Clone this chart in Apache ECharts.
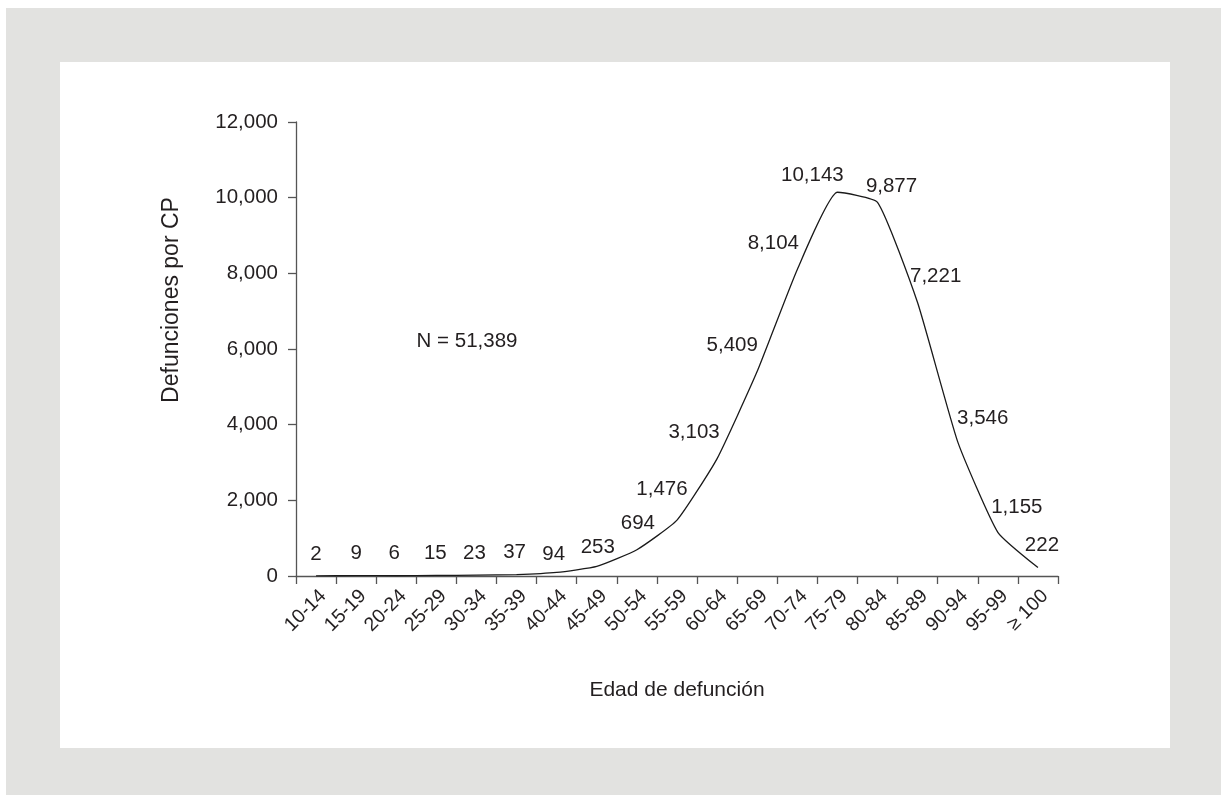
<!DOCTYPE html>
<html>
<head>
<meta charset="utf-8">
<script src="https://cdn.jsdelivr.net/npm/echarts@6/dist/echarts.min.js"></script>
<style>
  html, body { margin: 0; padding: 0; background: #ffffff; }
  #chart { width: 1221px; height: 795px; }
</style>
</head>
<body>
<div id="chart"></div>
<script>
// ---- Data ----
var categories = ['10-14','15-19','20-24','25-29','30-34','35-39','40-44','45-49','50-54','55-59','60-64','65-69','70-74','75-79','80-84','85-89','90-94','95-99','\u2265 100'];
var deaths = [2, 9, 6, 15, 23, 37, 94, 253, 694, 1476, 3103, 5409, 8104, 10143, 9877, 7221, 3546, 1155, 222];
var yTicks = { min: 0, max: 12000, interval: 2000 };
var totalLabel = 'N = 51,389';
var xAxisTitle = 'Edad de defunci\u00f3n';
var yAxisTitle = 'Defunciones por CP';

// ---- Styling (label placement offsets, not data) ----
var labelOffsets = [
  [0,-22],[0,-22],[-2,-22],[-1,-22],[-2,-22],[-2,-22],[-3,-18],[1,-19],[1,-26],
  [-15,-31],[-23,-26],[-25,-26],[-24,-26],[-25,-17],[14,-16],[18,-26],[25,-23],[19,-25],[4,-22]
];
var textColor = '#231f20';
var axisColor = '#555555';
var fontFamily = 'Liberation Sans, Arial, Helvetica, sans-serif';

function fmt(v) { return String(v).replace(/\B(?=(\d{3})+(?!\d))/g, ','); }

var seriesData = deaths.map(function (v, i) {
  return {
    value: v,
    label: { offset: labelOffsets[i] }
  };
});

var chart = echarts.init(document.getElementById('chart'), null, { renderer: 'canvas' });
chart.setOption({
  animation: false,
  backgroundColor: '#ffffff',
  textStyle: { fontFamily: fontFamily, color: textColor },
  graphic: [
    { type: 'rect', z: -10, silent: true, shape: { x: 6, y: 8, width: 1215, height: 787 }, style: { fill: '#e2e2e0' } },
    { type: 'rect', z: -9, silent: true, shape: { x: 60, y: 62, width: 1110, height: 686 }, style: { fill: '#ffffff' } },
    { type: 'text', x: 467, y: 341, style: { text: totalLabel, fontSize: 20.5, fill: textColor, fontFamily: fontFamily, align: 'center', verticalAlign: 'middle' } },
    { type: 'text', x: 677, y: 690, style: { text: xAxisTitle, fontSize: 21, fill: textColor, fontFamily: fontFamily, align: 'center', verticalAlign: 'middle' } },
    { type: 'text', x: 172, y: 300, rotation: Math.PI / 2, style: { text: yAxisTitle, fontSize: 23, fill: textColor, fontFamily: fontFamily, align: 'center', verticalAlign: 'middle' } }
  ],
  grid: { left: 296, right: 163, top: 122, bottom: 219, containLabel: false },
  xAxis: {
    type: 'category',
    data: categories,
    boundaryGap: true,
    axisLine: { lineStyle: { color: axisColor, width: 1.3 } },
    axisTick: { show: true, length: 8, alignWithLabel: false, lineStyle: { color: axisColor, width: 1.3 } },
    axisLabel: { rotate: 45, interval: 0, margin: 10, fontSize: 19.5, color: textColor, fontFamily: fontFamily, verticalAlign: 'top' },
    splitLine: { show: false }
  },
  yAxis: {
    type: 'value',
    min: yTicks.min, max: yTicks.max, interval: yTicks.interval,
    axisLine: { show: true, lineStyle: { color: axisColor, width: 1.3 } },
    axisTick: { show: true, length: 8, lineStyle: { color: axisColor, width: 1.3 } },
    axisLabel: { fontSize: 20.5, margin: 18, color: textColor, fontFamily: fontFamily, formatter: function (v) { return fmt(v); } },
    splitLine: { show: false }
  },
  series: [{
    type: 'line',
    data: seriesData,
    smooth: 0.15,
    symbol: 'circle',
    symbolSize: 1,
    showSymbol: true,
    itemStyle: { color: 'rgba(0,0,0,0)' },
    lineStyle: { color: '#1a1a1a', width: 1.3 },
    label: {
      show: true,
      position: 'inside',
      fontSize: 20.5,
      color: textColor,
      fontFamily: fontFamily,
      formatter: function (p) { return fmt(p.value); }
    }
  }]
});
</script>
</body>
</html>
